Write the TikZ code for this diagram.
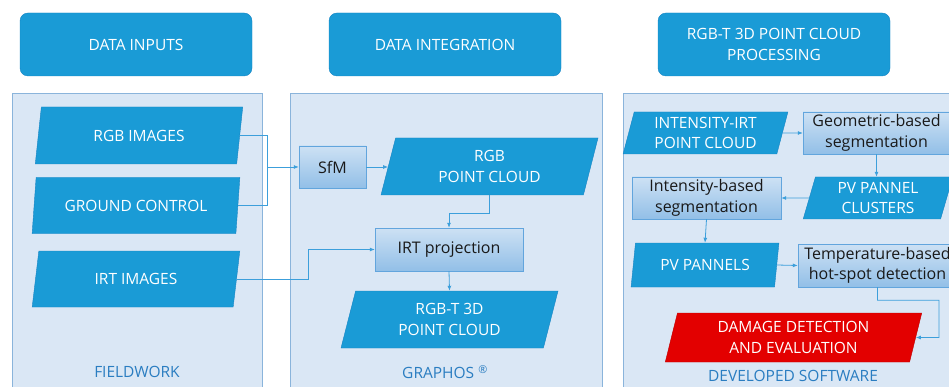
\documentclass[tikz,border=0pt]{standalone}
\usepackage{fontspec}
\setmainfont{Open Sans}
\usetikzlibrary{shapes.geometric, arrows.meta}

\definecolor{hblue}{HTML}{1A9BD6}
\definecolor{hline}{HTML}{1584C4}
\definecolor{panbg}{HTML}{DAE7F5}
\definecolor{panln}{HTML}{8AB4DB}
\definecolor{btop}{HTML}{CDE1F4}
\definecolor{bbot}{HTML}{92BFE7}
\definecolor{bline}{HTML}{62A5DD}
\definecolor{dred}{HTML}{E30000}
\definecolor{lblue}{HTML}{3C9FDB}
\definecolor{tblue}{HTML}{2A7DC1}

\begin{document}
\begin{tikzpicture}[
	x=1pt, y=-1pt,
	font=\fontsize{15.5}{20.5}\selectfont,
	h/.style = {rectangle, rounded corners=8, draw=hline, fill=hblue, text=white, align=center, minimum width=232, minimum height=63},
	pn/.style = {draw=panln, fill=panbg},
	pl/.style = {trapezium, trapezium left angle=76, trapezium right angle=104, trapezium stretches=true, draw=hline, fill=hblue, text=white, align=center, inner sep=0},
	bx/.style = {rectangle, draw=bline, top color=btop, bottom color=bbot, text=black!90, align=center, inner sep=0, font=\fontsize{16}{20.5}\selectfont},
	rd/.style = {pl, draw=red!75!black, fill=dred},
	lb/.style = {text=tblue},
	ln/.style = {draw=lblue, line width=0.8},
	r/.style = {ln, -{Latex[length=5, width=4]}}
	]
	
	\useasboundingbox (0, 0) rectangle (949, 387);
	
	% ===== ===== ===== ===== =====
	
	% Headers
	\node[h]	(hin)	at	(136, 44.5)	{DATA INPUTS};
	\node[h]	(hint)	at	(445, 44.5)	{DATA INTEGRATION};
	\node[h]	(hpro)	at	(774, 44.5)	{RGB-T 3D POINT CLOUD\\PROCESSING};
	
	% Panels
	\draw[pn] (12, 93) rectangle (262, 400);
	\draw[pn] (290, 93) rectangle (602, 400);
	\draw[pn] (623, 93) rectangle (960, 400);
	
	\node[lb]	(field)	at	(137, 372)	{FIELDWORK};
	\node[lb]	(graph)	at	(445, 372)	{GRAPHOS \textsuperscript{®}};
	\node[lb]	(soft)	at	(793, 376)	{DEVELOPED SOFTWARE};
	
	% ===== ===== ===== ===== =====
	
	% Nodes
	\node[pl, minimum width=208, minimum height=57]	(rgb)	at	(139, 135.5)	{RGB IMAGES};
	\node[pl, minimum width=208, minimum height=56]	(gcp)	at	(136, 205.5)	{GROUND CONTROL};
	\node[pl, minimum width=208, minimum height=56]	(irt)	at	(136, 279)	{IRT IMAGES};
	
	\coordinate	(jn)	at	(267, 167);
	
	% ===== ===== ===== ===== =====
	
	% Nodes
	\node[bx, minimum width=67, minimum height=42]	(sfm)	at	(332.5, 167)	{SfM};
	\node[pl, minimum width=217, minimum height=57]	(rgbpc)	at	(489.5, 166.5)	{RGB\\POINT CLOUD};
	\node[bx, minimum width=148, minimum height=43]	(proj)	at	(449, 249.5)	{IRT projection};
	\node[pl, minimum width=217, minimum height=57]	(rgbt)	at	(449.5, 319.5)	{RGB-T 3D\\POINT CLOUD};
	
	% Lines
	\draw[r]	(rgb.east)	-|	(jn)	--	(sfm.west);
	\draw[ln]	(gcp.east)	-|	(jn);
	\draw[r]	(sfm.east)	--	(sfm.east -| rgbpc.west);
	\draw[r]	(rgbpc.south)	--	++(0, 18)	-|	(proj.north);
	\draw[r]	(irt.east)	--	++(71.5, 0)	|-	(proj.west);
	\draw[r]	(proj.south)	--	(rgbt.north);
	
	% ===== ===== ===== ===== =====
	
	% Nodes
	\node[pl, minimum width=165, minimum height=42]	(iirt)	at	(705.5, 133)	{INTENSITY-IRT\\POINT CLOUD};
	\node[bx, minimum width=147, minimum height=42]	(geo)	at	(876.5, 133)	{Geometric-based\\segmentation};
	\node[pl, minimum width=150, minimum height=42]	(clus)	at	(878, 198)	{PV PANNEL\\CLUSTERS};
	\node[bx, minimum width=149, minimum height=42]	(ints)	at	(706.5, 198)	{Intensity-based\\segmentation};
	\node[pl, minimum width=148, minimum height=44]	(pvp)	at	(705, 265)	{PV PANNELS};
	\node[bx, minimum width=159, minimum height=43]	(temp)	at	(877.5, 265.5)	{Temperature-based\\hot-spot detection};
	\node[rd, minimum width=257, minimum height=49]	(dmg)	at	(793.5, 337.5)	{DAMAGE DETECTION\\AND EVALUATION};
	
	\coordinate	(dmgr)	at	(939, 337.5);
	
	% Lines
	\draw[r]	(iirt.east)	--	(geo.west);
	\draw[r]	(geo.south)	--	(geo.south |- clus.north);
	\draw[r]	(clus.west)	--	(ints.east);
	\draw[r]	(ints.south)	--	(pvp.north);
	\draw[r]	(pvp.east)	--	(temp.west);
	\draw[r]	(temp.south)	--	++(0, 13)	-|	(dmgr)	--	(dmg.east);
	
\end{tikzpicture}
\end{document}
